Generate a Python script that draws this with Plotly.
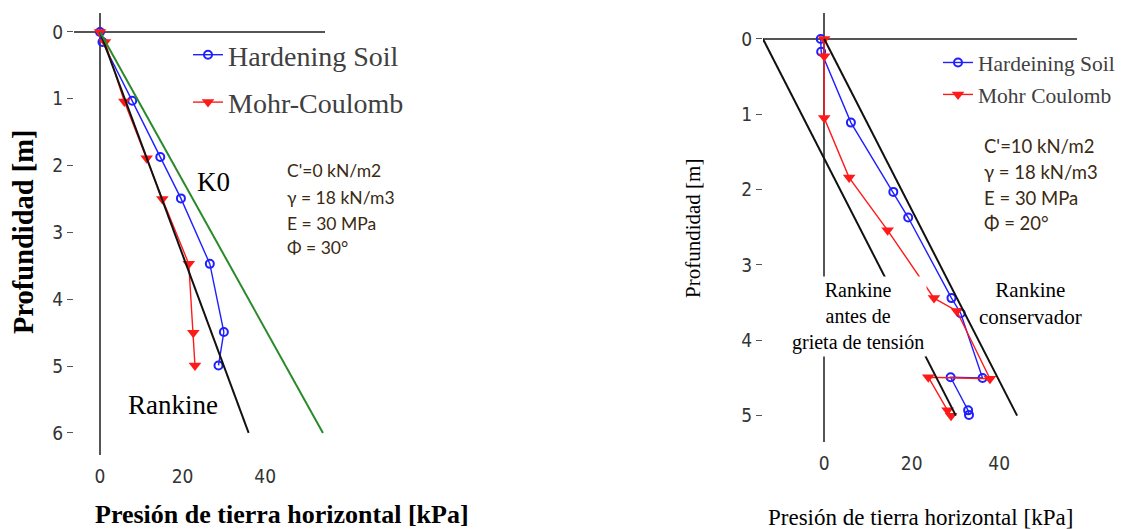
import plotly.graph_objects as go

# ---- Panel A: c' = 0, phi = 30 deg ----
a_hs_x = [0, 0.6, 7.8, 14.6, 19.6, 26.6, 30.0, 28.7]
a_hs_y = [0, 0.15, 1.03, 1.87, 2.49, 3.47, 4.49, 4.99]
a_mc_x = [0, 1.2, 5.9, 11.3, 15.1, 21.5, 22.6, 23.0]
a_mc_y = [0, 0.15, 1.04, 1.89, 2.50, 3.47, 4.50, 4.99]
a_rankine_x = [0, 36]
a_rankine_y = [0, 6]
a_k0_x = [0, 54]
a_k0_y = [0, 6]
a_params = ["C'=0 kN/m2", "γ = 18 kN/m3", "E = 30 MPa", "Φ = 30°"]
a_param_y = [2.08, 2.47, 2.86, 3.23]

# ---- Panel B: c' = 10, phi = 20 deg ----
b_hs_x = [-0.8, -0.7, 6.1, 15.8, 19.2, 29.1, 31.2, 36.2, 28.9, 32.9, 33.1]
b_hs_y = [0, 0.17, 1.11, 2.03, 2.37, 3.44, 3.64, 4.50, 4.49, 4.93, 4.99]
b_mc_x = [0, 0, 0, 5.7, 14.5, 25.1, 30.3, 37.9, 23.8, 28.2, 29.0]
b_mc_y = [0, 0.23, 1.05, 1.84, 2.54, 3.44, 3.61, 4.51, 4.49, 4.93, 5.0]
b_tension_x = [-14.0, 30.1]
b_tension_y = [0, 5]
b_conserv_x = [0, 44.1]
b_conserv_y = [0, 5]
b_params = ["C'=10 kN/m2", "γ = 18 kN/m3", "E = 30 MPa", "Φ = 20°"]
b_param_y = [1.42, 1.77, 2.11, 2.44]

x_ticks = [0, 20, 40]
a_y_ticks = [0, 1, 2, 3, 4, 5, 6]
b_y_ticks = [0, 1, 2, 3, 4, 5]

W, H = 1122, 529
SERIF = "Liberation Serif, Times New Roman, serif"
NARROW = "DejaVu Sans Condensed, Liberation Sans Narrow, Arial Narrow, sans-serif"
CALIBRI = "Lato, Open Sans, sans-serif"
BLUE = "#1f1fff"
RED = "#ff1a1a"
PARAM_COLOR = "#3a2a12"

fig = go.Figure()

# Panel A traces
fig.add_trace(go.Scatter(x=a_hs_x, y=a_hs_y, mode="lines+markers", name="Hardening Soil",
                         line=dict(color=BLUE, width=1.4),
                         marker=dict(symbol="circle-open", size=8, line=dict(width=2, color=BLUE)),
                         xaxis="x", yaxis="y", legend="legend", legendgroup="a1"))
fig.add_trace(go.Scatter(x=a_mc_x, y=a_mc_y, mode="lines+markers", name="Mohr-Coulomb",
                         line=dict(color=RED, width=1.4),
                         marker=dict(symbol="triangle-down", size=11, color=RED),
                         xaxis="x", yaxis="y", legend="legend", legendgroup="a2"))
fig.add_trace(go.Scatter(x=a_rankine_x, y=a_rankine_y, mode="lines", showlegend=False,
                         line=dict(color="#111111", width=2), xaxis="x", yaxis="y"))
fig.add_trace(go.Scatter(x=a_k0_x, y=a_k0_y, mode="lines", showlegend=False,
                         line=dict(color="#2a8a2a", width=2), xaxis="x", yaxis="y"))

# Panel B traces
fig.add_trace(go.Scatter(x=b_hs_x, y=b_hs_y, mode="lines+markers", name="Hardeining Soil",
                         line=dict(color=BLUE, width=1.4),
                         marker=dict(symbol="circle-open", size=8, line=dict(width=2, color=BLUE)),
                         xaxis="x2", yaxis="y2", legend="legend2", legendgroup="b1"))
fig.add_trace(go.Scatter(x=b_mc_x, y=b_mc_y, mode="lines+markers", name="Mohr Coulomb",
                         line=dict(color=RED, width=1.4),
                         marker=dict(symbol="triangle-down", size=11, color=RED),
                         xaxis="x2", yaxis="y2", legend="legend2", legendgroup="b2"))
fig.add_trace(go.Scatter(x=b_tension_x, y=b_tension_y, mode="lines", showlegend=False,
                         line=dict(color="#111111", width=2), xaxis="x2", yaxis="y2"))
fig.add_trace(go.Scatter(x=b_conserv_x, y=b_conserv_y, mode="lines", showlegend=False,
                         line=dict(color="#111111", width=2), xaxis="x2", yaxis="y2"))

tickfont = dict(family=NARROW, size=19, color="#333333")
common_x = dict(tickvals=x_ticks, showgrid=False, zeroline=True, zerolinecolor="#555555",
                zerolinewidth=1.5, showline=False, ticks="", ticklabelstandoff=8,
                tickfont=tickfont, fixedrange=True)
common_y = dict(showgrid=False, zeroline=True, zerolinecolor="#555555", zerolinewidth=1.5,
                showline=False, ticks="outside", ticklen=6, tickcolor="#555555",
                tickfont=tickfont, fixedrange=True)

fig.update_layout(
    width=W, height=H,
    margin=dict(l=0, r=0, t=0, b=0),
    paper_bgcolor="white", plot_bgcolor="white",
    xaxis=dict(domain=[74 / W, 325 / W], range=[-6.3, 54.5], anchor="y", **common_x),
    yaxis=dict(domain=[1 - 455 / H, 1 - 13 / H], range=[6.33, -0.284], anchor="x",
               tickvals=a_y_ticks, **common_y),
    xaxis2=dict(domain=[763 / W, 1077 / W], range=[-14.0, 57.8], anchor="y2", **common_x),
    yaxis2=dict(domain=[1 - 442 / H, 1 - 13 / H], range=[5.35, -0.345], anchor="x2",
                tickvals=b_y_ticks, **common_y),
    legend=dict(x=188 / W, y=1 - 30 / H, xanchor="left", yanchor="top",
                bgcolor="rgba(255,255,255,0)", tracegroupgap=8,
                font=dict(family=SERIF, size=28, color="#404040")),
    legend2=dict(x=938 / W, y=1 - 42 / H, xanchor="left", yanchor="top",
                 bgcolor="rgba(255,255,255,0)", tracegroupgap=1,
                 font=dict(family=SERIF, size=21.5, color="#404040")),
)

ann = []
# axis titles
title_common = dict(xref="paper", yref="paper", xanchor="center", yanchor="middle", showarrow=False)
ann.append(dict(text="<b>Profundidad [m]</b>", x=24 / W, y=1 - 232 / H, textangle=-90,
                font=dict(family=SERIF, size=28.5, color="black"), **title_common))
ann.append(dict(text="<b>Presión de tierra horizontal [kPa]</b>", x=282 / W, y=1 - 514 / H,
                font=dict(family=SERIF, size=26, color="black"), **title_common))
ann.append(dict(text="Profundidad [m]", x=693 / W, y=1 - 229 / H, textangle=-90,
                font=dict(family=SERIF, size=21, color="black"), **title_common))
ann.append(dict(text="Presión de tierra horizontal [kPa]", x=920 / W, y=1 - 517 / H,
                font=dict(family=SERIF, size=23, color="black"), **title_common))

# panel A labels
ann.append(dict(text="K0", x=27.4, y=2.24, xref="x", yref="y", showarrow=False,
                font=dict(family=SERIF, size=27, color="black")))
ann.append(dict(text="Rankine", x=17.7, y=5.58, xref="x", yref="y", showarrow=False,
                font=dict(family=SERIF, size=27, color="black")))
for t, yy in zip(a_params, a_param_y):
    ann.append(dict(text=t, x=44.8, y=yy, xref="x", yref="y", xanchor="left", showarrow=False,
                    font=dict(family=CALIBRI, size=17.5, color=PARAM_COLOR)))

# panel B labels
ann.append(dict(text="Rankine<br>antes de<br>grieta de tensión", x=7.7, y=3.68, xref="x2", yref="y2",
                showarrow=False, bgcolor="white", borderpad=2,
                font=dict(family=SERIF, size=20, color="black")))
ann.append(dict(text="Rankine<br>conservador", x=47.1, y=3.51, xref="x2", yref="y2",
                showarrow=False, font=dict(family=SERIF, size=21, color="black")))
for t, yy in zip(b_params, b_param_y):
    ann.append(dict(text=t, x=36.1, y=yy, xref="x2", yref="y2", xanchor="left", showarrow=False,
                    font=dict(family=CALIBRI, size=18.5, color=PARAM_COLOR)))

fig.update_layout(annotations=ann)

fig.write_html("out.html")
